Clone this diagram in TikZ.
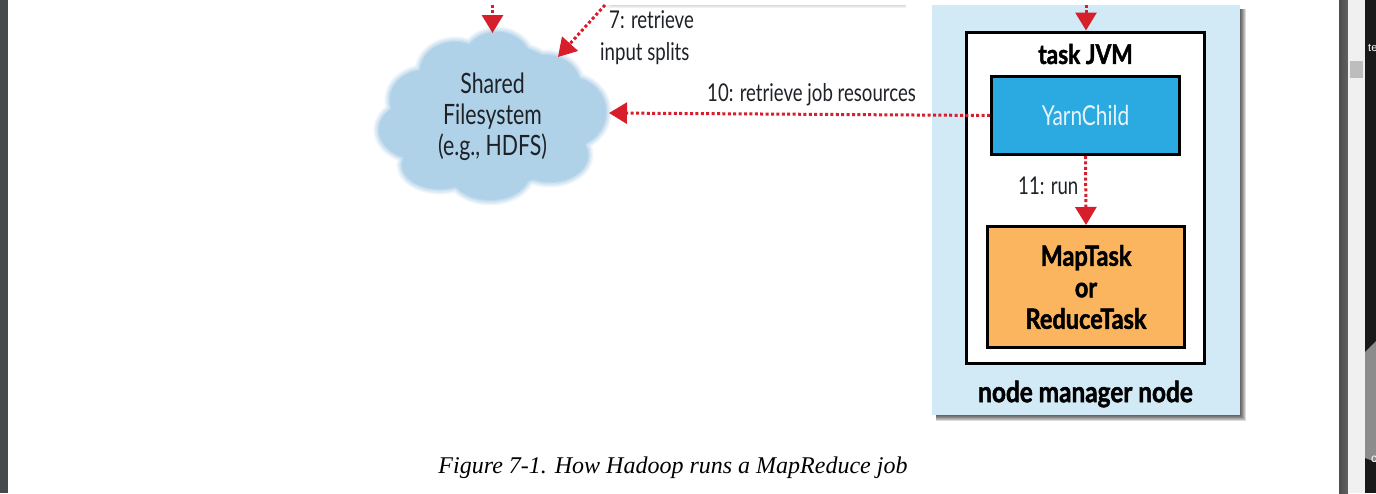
\documentclass[tikz,border=0pt]{standalone}
\usepackage{fontspec}
\setmainfont{Lato}[FakeStretch=0.76,BoldFeatures={FakeStretch=0.84,FakeBold=1.6}]
\newfontfamily\capfont{Liberation Serif}
\newfontfamily\uifont{Liberation Sans}
\usetikzlibrary{arrows.meta}
\definecolor{panelblue}{HTML}{D2EAF6}
\definecolor{cloudblue}{HTML}{AFD2E9}
\definecolor{childblue}{HTML}{2BA9E1}
\definecolor{taskorange}{HTML}{FBB55F}
\definecolor{arrowred}{HTML}{D71F2B}
\definecolor{inktext}{HTML}{1E2227}
\definecolor{barleft}{HTML}{454A4D}
\tikzset{
  x=1pt,y=-1pt,
  flow/.style={draw=arrowred,line width=3pt,dash pattern=on 3pt off 2.4pt,
    -{Triangle[length=18pt,width=21pt,fill=arrowred,sharp]}},
  lbl/.style={font=\fontsize{24.5}{29}\selectfont,text=inktext,inner sep=0pt,align=center},
  boldlbl/.style={font=\fontsize{27}{31}\selectfont\bfseries,text=black,inner sep=0pt,align=center},
  bbox/.style={draw=black,line width=3pt,inner sep=0pt,anchor=north west},
}
\newcommand{\cloudshape}{
  (492,115) circle[x radius=90,y radius=72]
  (497,65) circle[x radius=35,y radius=33]
  (455,72) circle[x radius=35,y radius=30]
  (545,85) circle[x radius=35,y radius=30]
  (425,100) circle[x radius=35,y radius=30]
  (421,130) circle[x radius=42,y radius=30]
  (569,112) circle[x radius=37,y radius=35]
  (440,165) circle[x radius=38,y radius=24]
  (490,172) circle[x radius=40,y radius=28]
  (550,155) circle[x radius=38,y radius=27]
}
\begin{document}
\begin{tikzpicture}
\useasboundingbox (0,0) rectangle (1376,493);
\fill[white] (0,0) rectangle (1376,493);
% window chrome
\fill[barleft] (0,0) rectangle (8,493);
\fill[left color=black!70,right color=black!62] (1339,0) rectangle (1348,493);
\fill[black!6] (1348,0) rectangle (1365,493);
\fill[black!26] (1350,61) rectangle (1363,78);
\fill[black!90] (1365,0) rectangle (1376,493);
\fill[black!45] (1365,352) -- (1376,341) -- (1376,462) -- (1365,458) -- cycle;
\begin{scope}
\clip (1365,0) rectangle (1376,493);
\node[anchor=west,inner sep=0pt,text=white,font=\uifont\fontsize{11}{12}\selectfont] (sidea) at (1368,48) {te};
\node[anchor=west,inner sep=0pt,text=white,font=\uifont\fontsize{12}{12}\selectfont] (sideb) at (1371,459) {c};
\end{scope}
% soft shadow of the box above the crop
\foreach \w in {0,1,2}{\fill[black,opacity=.05] (612-\w*3,5) rectangle (905+\w*.6,6+\w*1.1);}
% cloud, blurred edge
\foreach \w/\o in {11/.18,8/.25,5/.35,2/.5}{
  \draw[cloudblue,line width=\w pt,opacity=\o] \cloudshape;
}
\fill[cloudblue] \cloudshape;
\node[lbl,font=\fontsize{28}{31}\selectfont] (cloud) at (492.5,117) {Shared\\Filesystem\\(e.g., HDFS)};
\coordinate (cloudtop) at (492.5,33);
\coordinate (cloudne) at (558,57);
\coordinate (cloudeast) at (609,113);
\coordinate (froma) at (492.5,5);
\coordinate (fromb) at (605,5);
% panel
\foreach \w in {6,5,4,3,2,1}{\fill[black,opacity=.14] (936,9) rectangle (1240+\w,415+\w);}
\fill[panelblue] (932,5) rectangle (1240,415);
\node[bbox,fill=white,minimum width=238pt,minimum height=331pt] (jvm) at (965,30.5) {};
\node[bbox,fill=childblue,minimum width=188pt,minimum height=78pt] (child) at (990,75) {};
\node[bbox,fill=taskorange,minimum width=197pt,minimum height=121pt] (task) at (986,225) {};
\coordinate (frompanel) at (1086,5);
\node[boldlbl] (jvmlbl) at (1085.5,54) {task JVM};
\node[lbl,text=white!88!childblue,font=\fontsize{27.5}{31}\selectfont] (childlbl) at (1085.5,115) {YarnChild};
\node[boldlbl,font=\fontsize{28}{31.5}\selectfont\bfseries] (tasklbl) at (1086,287) {MapTask\\or\\ReduceTask};
\node[boldlbl,font=\fontsize{29}{31}\selectfont\bfseries] (nmlbl) at (1085.5,394) {node manager node};
% connectors
\draw[flow] (froma) -- (cloudtop);
\draw[flow] (fromb) -- (cloudne);
\draw[flow] (child.west) -- (cloudeast);
\draw[flow] (frompanel) -- (jvm.north -| frompanel);
\draw[flow] (child.south) -- (task.north);
% labels
\node[lbl,anchor=west] (l7a) at (609,20) {7: retrieve};
\node[lbl,anchor=west] (l7b) at (600,54) {input splits};
\node[lbl,anchor=west] (l10) at (707,94.5) {10: retrieve job resources};
\node[lbl,anchor=west] (l11) at (1018,185.5) {11: run};
\node[anchor=center,inner sep=0pt,font=\capfont\itshape\fontsize{24}{28}\selectfont,text=black] (caption) at (673,467.5) {Figure 7-1. How Hadoop runs a MapReduce job};
\end{tikzpicture}
\end{document}
